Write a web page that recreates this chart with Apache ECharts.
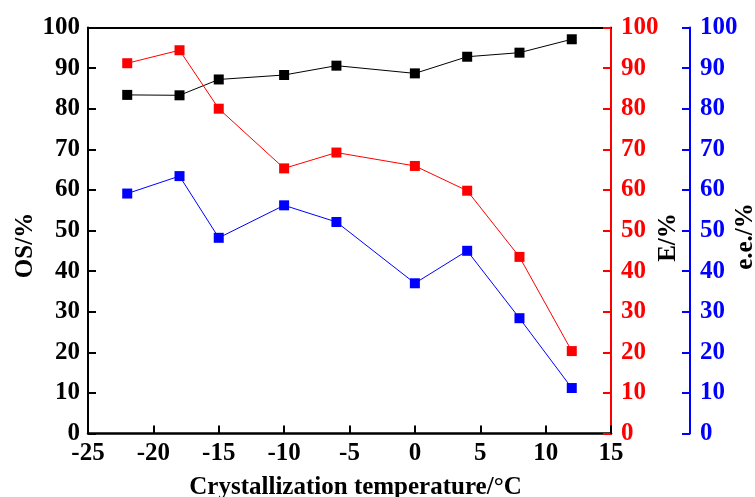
<!DOCTYPE html>
<html lang="en">
<head>
<meta charset="utf-8">
<title>Crystallization temperature</title>
<script src="https://cdn.jsdelivr.net/npm/echarts@6/dist/echarts.min.js"></script>
<style>
  html, body { margin: 0; padding: 0; background: #fff; }
</style>
</head>
<body>
<div id="main" style="width: 755px;height:497px;"></div>

<script type="text/javascript">
    // crystallization temperature, °C
    var temps = [-22, -18, -15, -10, -6, 0, 4, 8, 12];
    // OS/% (left, black)
    var osVals = [83.4, 83.3, 87.2, 88.3, 90.6, 88.7, 92.8, 93.8, 97.1];
    // E/% (right, red)
    var eVals = [91.2, 94.4, 80.0, 65.3, 69.2, 65.9, 59.8, 43.5, 20.3];
    // e.e./% (far right, blue)
    var eeVals = [59.1, 63.4, 48.2, 56.2, 52.1, 37.0, 45.0, 28.4, 11.2];

    function pairs(ys) {
        return temps.map(function (t, i) { return [t, ys[i]]; });
    }

    var font = 'Liberation Serif';
    var myChart = echarts.init(document.getElementById('main'));

    function yAxis(color, pos, offset, name, gap, shift) {
        return {
            type: 'value',
            position: pos,
            offset: offset,
            min: 0, max: 100, interval: 10,
            name: name,
            nameLocation: 'middle',
            nameRotate: 90,
            nameGap: gap,
            nameMoveOverlap: false,
            nameTextStyle: { color: '#000', fontFamily: font, fontWeight: 'bold', fontSize: 25, padding: [0, shift, 0, 0] },
            axisLine: { show: true, onZero: false, lineStyle: { color: color, width: 2 } },
            axisTick: { show: true, inside: true, length: 8, lineStyle: { color: color, width: 2 } },
            axisLabel: { color: color, fontFamily: font, fontWeight: 'bold', fontSize: 25, margin: pos === 'left' ? 8 : 10 },
            splitLine: { show: false }
        };
    }

    function line(color, ys, axisIdx) {
        return {
            type: 'line',
            yAxisIndex: axisIdx,
            data: pairs(ys),
            symbol: 'rect',
            symbolSize: 10,
            lineStyle: { color: color, width: 1 },
            itemStyle: { color: color },
            animation: false
        };
    }

    var option = {
        backgroundColor: '#fff',
        grid: { left: 88, right: 144, top: 27.5, bottom: 63.5, containLabel: false, outerBoundsMode: 'none' },
        xAxis: [{
            type: 'value',
            min: -25, max: 15, interval: 5,
            name: 'Crystallization temperature/°C',
            nameLocation: 'middle',
            nameGap: 42,
            nameMoveOverlap: false,
            nameTextStyle: { color: '#000', fontFamily: font, fontWeight: 'bold', fontSize: 25, padding: [0, 0, 0, 12] },
            axisLine: { onZero: false, lineStyle: { color: '#000', width: 2.5 } },
            axisTick: { inside: true, length: 8, lineStyle: { color: '#000', width: 2 } },
            axisLabel: { color: '#000', fontFamily: font, fontWeight: 'bold', fontSize: 25, margin: 8 },
            splitLine: { show: false }
        }, {
            type: 'value',
            position: 'top',
            min: -25, max: 15,
            axisLine: { onZero: false, lineStyle: { color: '#000', width: 2 } },
            axisTick: { show: false },
            axisLabel: { show: false },
            splitLine: { show: false }
        }],
        yAxis: [
            yAxis('#000', 'left', 0, 'OS/%', 50, 30),
            yAxis('#ff0000', 'right', 0, 'E/%', 45, 14),
            yAxis('#0000ff', 'right', 79, 'e.e./%', 43, 12)
        ],
        series: [
            line('#000', osVals, 0),
            line('#ff0000', eVals, 1),
            line('#0000ff', eeVals, 2)
        ]
    };

    option && myChart.setOption(option);
</script>
</body>
</html>
